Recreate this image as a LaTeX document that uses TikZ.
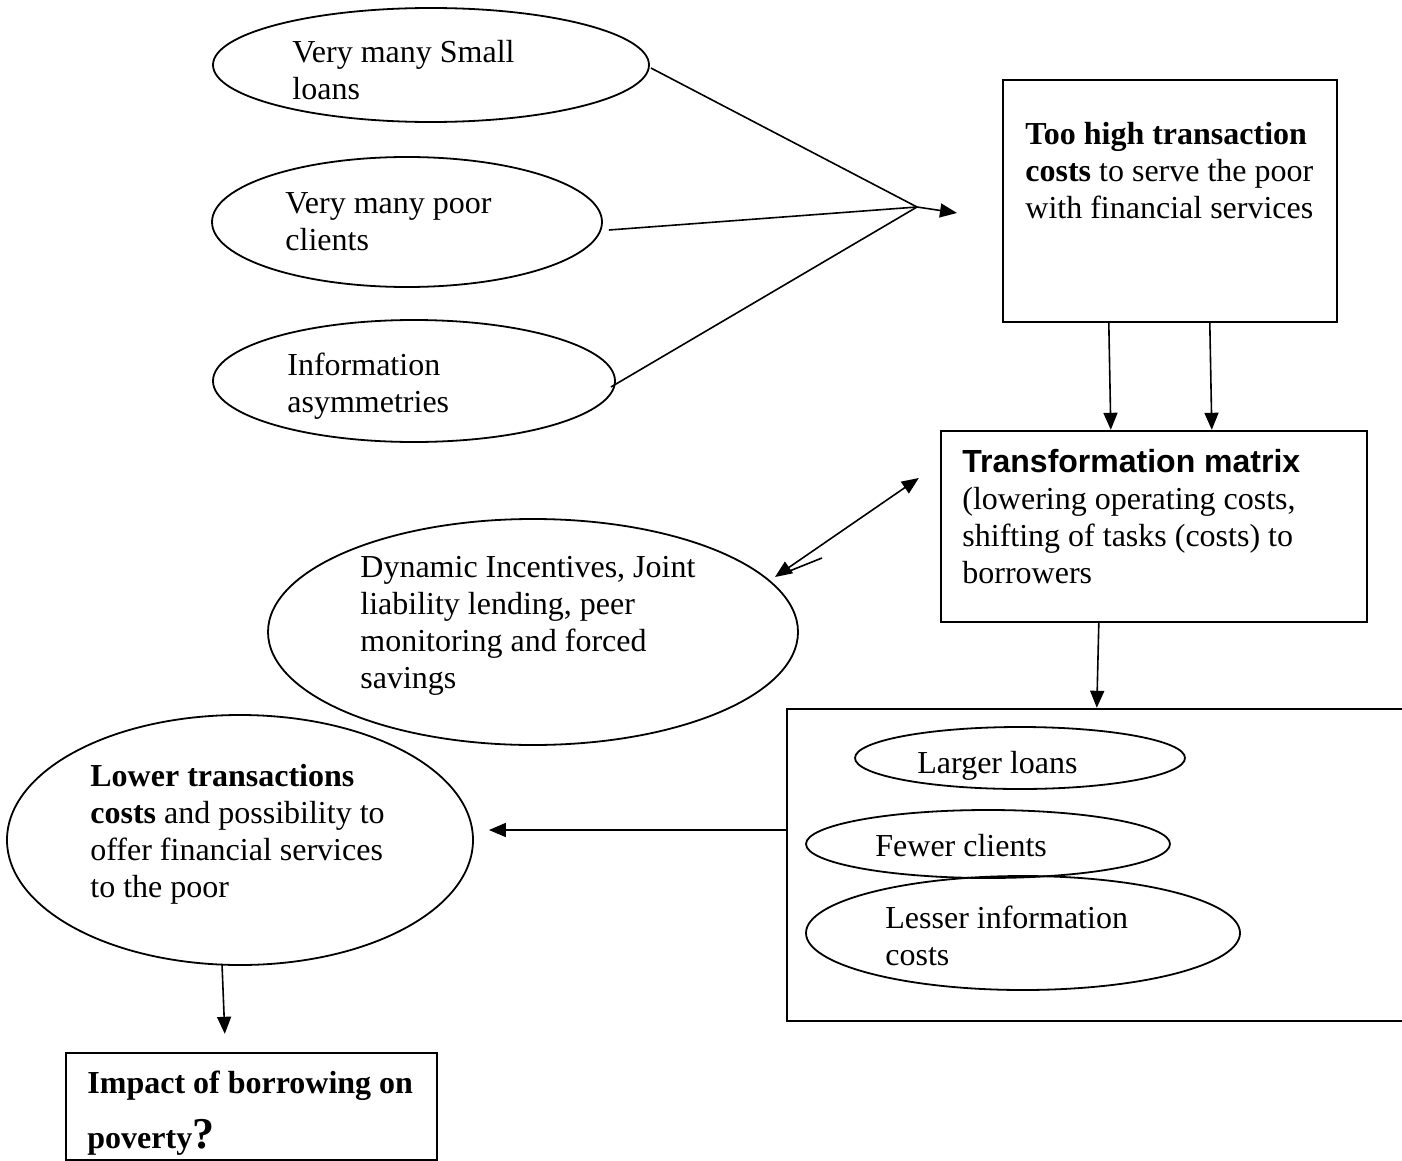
\documentclass[tikz,border=0pt]{standalone}
\usepackage{fontspec}
\setmainfont{Liberation Serif}
\newfontfamily\arialfont{Liberation Sans}
\usetikzlibrary{shapes.geometric,arrows.meta,calc}

\begin{document}
\begin{tikzpicture}[x=0.5pt,y=-0.5pt,
  oval/.style={ellipse, draw, line width=0.9pt, inner sep=0pt},
  frame/.style={rectangle, draw, line width=1.2pt, inner sep=0pt},
  % multi-line texts are placed by the baseline of their last line
  txt/.style={anchor=base west, align=left, inner sep=0pt,
              font=\fontsize{16}{18.5}\selectfont},
  link/.style={line width=0.8pt},
  arr/.style={line width=0.8pt, -{Triangle[length=8.5pt,width=7pt]}},
]
\useasboundingbox (0,0) rectangle (1402,1161);

% causes of high transaction costs
\node[oval, minimum width=218pt, minimum height=57pt] (e1) at (431,65) {};
\node[oval, minimum width=195pt, minimum height=65pt] (e2) at (407,222) {};
\node[oval, minimum width=201pt, minimum height=61pt] (e3) at (414,381) {};
\node[txt] (t1) at (292,100) {Very many Small\\loans};
\node[txt] (t2) at (285,250) {Very many poor\\clients};
\node[txt] (t3) at (287,412) {Information\\asymmetries};

% problem box
\node[frame, minimum width=167pt, minimum height=121pt] (b1) at (1170,201) {};
\node[txt] (tb1) at (1025,218) {\textbf{Too high transaction}\\\textbf{costs} to serve the poor\\with financial services};

% transformation matrix
\node[frame, minimum width=213pt, minimum height=95.5pt] (b2) at (1154,526.5) {};
\node[txt] (tb2) at (962,583) {{\arialfont\bfseries Transformation matrix}\\(lowering operating costs,\\shifting of tasks (costs) to\\borrowers};

% lending techniques
\node[oval, minimum width=265pt, minimum height=113pt] (e4) at (533,632) {};
\node[txt] (t4) at (360,688) {Dynamic Incentives, Joint\\liability lending, peer\\monitoring and forced\\savings};

% outcomes of the transformation
\node[frame, minimum width=316.5pt, minimum height=156pt] (b3) at (1103.5,865) {};
\node[oval, minimum width=165pt, minimum height=31pt] (e6) at (1020,758) {};
\node[oval, minimum width=182pt, minimum height=34pt] (e7) at (988,844) {};
\node[oval, minimum width=217pt, minimum height=57pt] (e8) at (1023,933) {};
\node[txt] (t6) at (917,773) {Larger loans};
\node[txt] (t7) at (875,856) {Fewer clients};
\node[txt] (t8) at (885,965) {Lesser information\\costs};

% result
\node[oval, minimum width=233pt, minimum height=125pt] (e5) at (240,840) {};
\node[txt] (t5) at (90,897) {\textbf{Lower transactions}\\\textbf{costs} and possibility to\\offer financial services\\to the poor};

% open question
\node[frame, minimum width=185.5pt, minimum height=53.5pt] (b4) at (251.5,1106.5) {};
\node[txt] (tb4) at (87,1148) {\textbf{Impact of borrowing on}\\[9pt]\textbf{poverty}{\fontsize{22}{22}\selectfont\bfseries ?}};

% connectors
\coordinate (hub) at (917,207);
\coordinate (hubtip) at (957,213);
\draw[link] ($(e1.east)+(1,3)$) -- (hub);
\draw[link] ($(e2.east)+(6,8)$) -- (hub);
\draw[link] ($(e3.east)+(-5,6)$) -- (hub);
\draw[arr] (hub) -- (hubtip);

\draw[arr] ($(b1.south west)+(107,0)$) -- ($(b2.north west)+(171,0)$);
\draw[arr] ($(b1.south west)+(208,0)$) -- ($(b2.north west)+(272,0)$);

\draw[line width=0.8pt, {Triangle[length=8.5pt,width=7pt]}-{Triangle[length=8.5pt,width=7pt]}]
  ($(e4.center)+(242,-55)$) -- ($(b2.west)+(-21,-48.5)$);
\draw[link] ($(e4.center)+(249,-58)$) -- ($(e4.center)+(289,-74)$);

\draw[arr] ($(b2.south west)+(159,0)$) -- ($(b3.north west)+(311,0)$);
\draw[arr] ($(b3.west)+(0,-35)$) -- ($(e5.east)+(15,-10)$);
\draw[arr] ($(e5.south)+(-18,-2)$) -- ($(b4.north west)+(160,-18)$);
\end{tikzpicture}
\end{document}
